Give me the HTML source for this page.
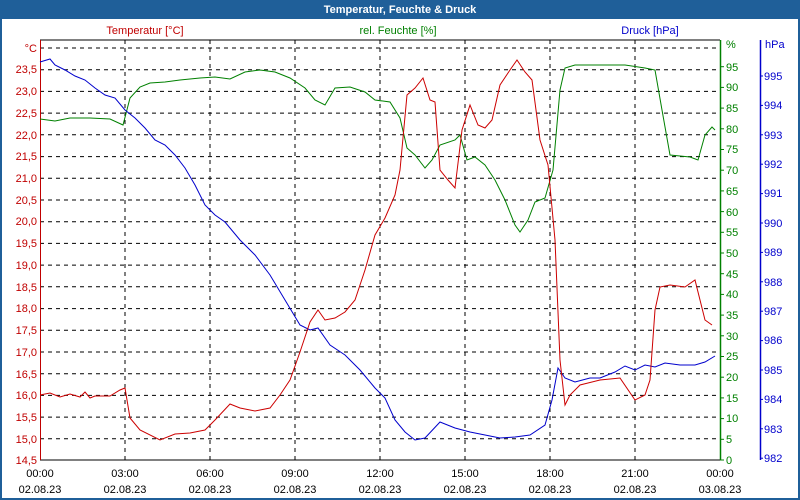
<!DOCTYPE html>
<html><head><meta charset="utf-8"><style>
body{margin:0;width:800px;height:500px;overflow:hidden;background:#1f5f99}
svg{display:block;font-family:"Liberation Sans",sans-serif;font-size:11px}
</style></head><body>
<svg width="800" height="500" xmlns="http://www.w3.org/2000/svg">
<rect x="0" y="0" width="800" height="500" fill="#1f5f99"/>
<rect x="2" y="19" width="796" height="479" fill="#fff"/>
<text x="400" y="13" fill="#fff" font-weight="bold" text-anchor="middle">Temperatur, Feuchte &amp; Druck</text>
<text x="145" y="34" fill="#c00000" text-anchor="middle">Temperatur [°C]</text>
<text x="398" y="34" fill="#008000" text-anchor="middle">rel. Feuchte [%]</text>
<text x="650" y="34" fill="#0000cc" text-anchor="middle">Druck [hPa]</text>
<g stroke="#000" stroke-dasharray="4,4" stroke-width="1">
<line x1="40" x2="720" y1="48" y2="48"/><line x1="40" x2="720" y1="69.7" y2="69.7"/><line x1="40" x2="720" y1="91.4" y2="91.4"/><line x1="40" x2="720" y1="113.1" y2="113.1"/><line x1="40" x2="720" y1="134.8" y2="134.8"/><line x1="40" x2="720" y1="156.6" y2="156.6"/><line x1="40" x2="720" y1="178.3" y2="178.3"/><line x1="40" x2="720" y1="200" y2="200"/><line x1="40" x2="720" y1="221.7" y2="221.7"/><line x1="40" x2="720" y1="243.4" y2="243.4"/><line x1="40" x2="720" y1="265.1" y2="265.1"/><line x1="40" x2="720" y1="286.8" y2="286.8"/><line x1="40" x2="720" y1="308.6" y2="308.6"/><line x1="40" x2="720" y1="330.3" y2="330.3"/><line x1="40" x2="720" y1="352" y2="352"/><line x1="40" x2="720" y1="373.7" y2="373.7"/><line x1="40" x2="720" y1="395.4" y2="395.4"/><line x1="40" x2="720" y1="417.1" y2="417.1"/><line x1="40" x2="720" y1="438.8" y2="438.8"/>
<line x1="125" x2="125" y1="40" y2="460"/><line x1="210" x2="210" y1="40" y2="460"/><line x1="295" x2="295" y1="40" y2="460"/><line x1="380" x2="380" y1="40" y2="460"/><line x1="465" x2="465" y1="40" y2="460"/><line x1="550" x2="550" y1="40" y2="460"/><line x1="635" x2="635" y1="40" y2="460"/>
</g>
<line x1="40" y1="40" x2="720" y2="40" stroke="#000"/>
<line x1="40" y1="460" x2="720" y2="460" stroke="#000"/>
<line x1="40.5" y1="40" x2="40.5" y2="460" stroke="#c00000"/>
<line x1="720.5" y1="40" x2="720.5" y2="460" stroke="#008000" stroke-width="1.5"/>
<line x1="760.5" y1="40" x2="760.5" y2="460" stroke="#0000cc" stroke-width="1.5"/>
<g stroke="#008000"><line x1="720" x2="724" y1="460" y2="460"/><line x1="720" x2="724" y1="439.3" y2="439.3"/><line x1="720" x2="724" y1="418.6" y2="418.6"/><line x1="720" x2="724" y1="397.9" y2="397.9"/><line x1="720" x2="724" y1="377.2" y2="377.2"/><line x1="720" x2="724" y1="356.5" y2="356.5"/><line x1="720" x2="724" y1="335.8" y2="335.8"/><line x1="720" x2="724" y1="315.1" y2="315.1"/><line x1="720" x2="724" y1="294.4" y2="294.4"/><line x1="720" x2="724" y1="273.7" y2="273.7"/><line x1="720" x2="724" y1="253" y2="253"/><line x1="720" x2="724" y1="232.3" y2="232.3"/><line x1="720" x2="724" y1="211.6" y2="211.6"/><line x1="720" x2="724" y1="190.9" y2="190.9"/><line x1="720" x2="724" y1="170.2" y2="170.2"/><line x1="720" x2="724" y1="149.5" y2="149.5"/><line x1="720" x2="724" y1="128.8" y2="128.8"/><line x1="720" x2="724" y1="108.1" y2="108.1"/><line x1="720" x2="724" y1="87.4" y2="87.4"/><line x1="720" x2="724" y1="66.7" y2="66.7"/></g>
<g stroke="#0000cc"><line x1="760" x2="763" y1="76" y2="76"/><line x1="760" x2="763" y1="105.4" y2="105.4"/><line x1="760" x2="763" y1="134.8" y2="134.8"/><line x1="760" x2="763" y1="164.2" y2="164.2"/><line x1="760" x2="763" y1="193.6" y2="193.6"/><line x1="760" x2="763" y1="223" y2="223"/><line x1="760" x2="763" y1="252.4" y2="252.4"/><line x1="760" x2="763" y1="281.8" y2="281.8"/><line x1="760" x2="763" y1="311.2" y2="311.2"/><line x1="760" x2="763" y1="340.6" y2="340.6"/><line x1="760" x2="763" y1="370" y2="370"/><line x1="760" x2="763" y1="399.4" y2="399.4"/><line x1="760" x2="763" y1="428.8" y2="428.8"/><line x1="760" x2="763" y1="458.2" y2="458.2"/></g>
<g fill="#c00000" text-anchor="end">
<text x="37" y="52">°C</text><text x="37" y="73">23,5</text><text x="37" y="95">23,0</text><text x="37" y="117">22,5</text><text x="37" y="139">22,0</text><text x="37" y="160">21,5</text><text x="37" y="182">21,0</text><text x="37" y="204">20,5</text><text x="37" y="225">20,0</text><text x="37" y="247">19,5</text><text x="37" y="269">19,0</text><text x="37" y="291">18,5</text><text x="37" y="312">18,0</text><text x="37" y="334">17,5</text><text x="37" y="356">17,0</text><text x="37" y="378">16,5</text><text x="37" y="399">16,0</text><text x="37" y="421">15,5</text><text x="37" y="443">15,0</text><text x="37" y="464">14,5</text>
</g>
<g fill="#008000">
<text x="726" y="48">%</text><text x="726" y="71">95</text><text x="726" y="91">90</text><text x="726" y="112">85</text><text x="726" y="133">80</text><text x="726" y="153">75</text><text x="726" y="174">70</text><text x="726" y="195">65</text><text x="726" y="216">60</text><text x="726" y="236">55</text><text x="726" y="257">50</text><text x="726" y="278">45</text><text x="726" y="298">40</text><text x="726" y="319">35</text><text x="726" y="340">30</text><text x="726" y="360">25</text><text x="726" y="381">20</text><text x="726" y="402">15</text><text x="726" y="422">10</text><text x="726" y="443">5</text><text x="726" y="464">0</text>
</g>
<g fill="#0000cc">
<text x="765" y="48">hPa</text><text x="764" y="80">995</text><text x="764" y="109">994</text><text x="764" y="139">993</text><text x="764" y="168">992</text><text x="764" y="197">991</text><text x="764" y="227">990</text><text x="764" y="256">989</text><text x="764" y="286">988</text><text x="764" y="315">987</text><text x="764" y="344">986</text><text x="764" y="374">985</text><text x="764" y="403">984</text><text x="764" y="433">983</text><text x="764" y="462">982</text>
</g>
<g fill="#000" text-anchor="middle">
<text x="40" y="477">00:00</text><text x="125" y="477">03:00</text><text x="210" y="477">06:00</text><text x="295" y="477">09:00</text><text x="380" y="477">12:00</text><text x="465" y="477">15:00</text><text x="550" y="477">18:00</text><text x="635" y="477">21:00</text><text x="720" y="477">00:00</text>
<text x="40" y="493">02.08.23</text><text x="125" y="493">02.08.23</text><text x="210" y="493">02.08.23</text><text x="295" y="493">02.08.23</text><text x="380" y="493">02.08.23</text><text x="465" y="493">02.08.23</text><text x="550" y="493">02.08.23</text><text x="635" y="493">02.08.23</text><text x="720" y="493">03.08.23</text>
</g>
<polyline fill="none" stroke="#008000" points="40,119 55,121 70,118 90,118 110,119 123,125 130,98 140,87 150,83 165,82 180,80 200,78 215,77 230,79 245,72 260,70 275,72 290,78 305,88 315,100 325,105 335,88 350,87 365,92 375,100 390,102 400,118 407,148 415,155 425,168 432,160 440,145 455,140 460,135 467,160 475,157 485,165 495,180 505,200 515,225 520,232 528,220 535,202 545,198 553,170 560,90 565,68 575,65 600,65 625,65 645,68 655,70 662,110 670,155 690,157 698,160 705,135 712,127 715,130"/>
<polyline fill="none" stroke="#0000cc" points="40,62 50,59 55,65 65,70 75,76 85,80 95,88 105,95 115,98 125,110 135,118 145,128 155,140 165,145 175,155 185,168 195,185 205,205 215,215 225,222 240,240 255,255 270,275 285,300 300,325 310,330 318,328 330,345 345,355 360,370 375,388 385,398 395,420 405,432 415,440 425,438 440,422 455,428 470,432 485,435 500,438 515,437 530,435 545,425 552,400 558,368 565,378 575,382 590,378 600,378 615,372 625,366 635,370 645,365 655,367 665,363 680,365 695,365 705,362 715,356"/>
<polyline fill="none" stroke="#cc0000" points="40,395 50,393 60,397 70,394 80,397 85,392 90,398 95,396 110,396 120,390 125,388 130,418 140,430 160,440 175,434 190,433 205,430 215,420 230,404 240,408 255,411 270,408 280,395 290,380 300,352 310,322 318,310 325,320 335,318 345,312 355,300 365,270 375,235 385,218 395,195 400,170 407,95 415,88 423,78 430,100 435,102 440,170 448,180 455,188 462,130 470,105 478,125 485,128 492,120 500,85 510,70 517,60 525,72 532,80 540,140 548,165 555,240 560,360 565,405 570,395 580,385 600,380 620,378 635,400 645,395 650,380 655,310 660,287 670,285 685,287 695,280 705,320 712,325"/>
</svg>
</body></html>
